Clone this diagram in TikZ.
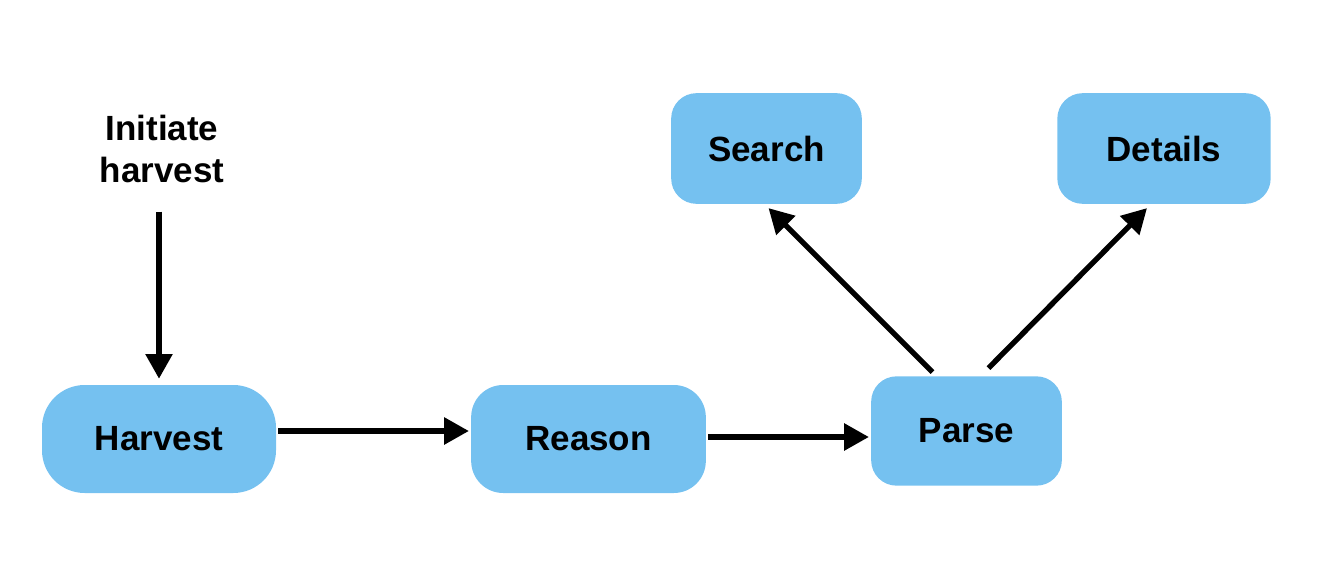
\documentclass[tikz,border=0pt]{standalone}
\usepackage{fontspec}
\setmainfont{Liberation Sans}
\usepackage{tikz}
\usetikzlibrary{arrows.meta,positioning}
\definecolor{nodeblue}{HTML}{75C1F0}

\begin{document}
\begin{tikzpicture}[
  x=0.75pt, y=-0.75pt,
  every node/.style={align=center, font=\fontsize{26.25}{31.5}\selectfont\bfseries},
  box/.style={fill=nodeblue, inner sep=0pt},
  arr/.style={-{Triangle[length=18.5pt,width=19.5pt]}, line width=4pt},
]
  \useasboundingbox (0,0) rectangle (1328,570);

  \node (init) at (162,149) {Initiate\\harvest};
  \node[box, rounded corners=32pt, minimum width=175.5pt, minimum height=81pt] (harvest) at (159,439) {Harvest};
  \node[box, rounded corners=24pt, minimum width=176pt, minimum height=81pt] (reason) at (588.5,439) {Reason};
  \node[box, rounded corners=19pt, minimum width=143pt, minimum height=82pt] (parse) at (966.5,431) {Parse};
  \node[box, rounded corners=19pt, minimum width=143pt, minimum height=83pt] (search) at (766.5,148.5) {Search};
  \node[box, rounded corners=19pt, minimum width=160pt, minimum height=83pt] (details) at (1164,148.5) {Details};

  \draw[arr, shorten <=18pt, shorten >=4.5pt] (init.south -| harvest.north) -- (harvest.north);
  \draw[arr, shorten <=1.5pt, shorten >=1.5pt] ([yshift=6pt]harvest.east) -- ([yshift=6pt]reason.west);
  \draw[arr, shorten <=1.5pt, shorten >=1.5pt] ([yshift=1.5pt]reason.east) -- ([yshift=-4.5pt]parse.west);
  \draw[arr] ([xshift=-25.5pt,yshift=3pt]parse.north) -- ([xshift=1.5pt,yshift=-3pt]search.south);
  \draw[arr] ([xshift=16.5pt,yshift=6pt]parse.north) -- ([xshift=-12.75pt,yshift=-3pt]details.south);
\end{tikzpicture}
\end{document}
